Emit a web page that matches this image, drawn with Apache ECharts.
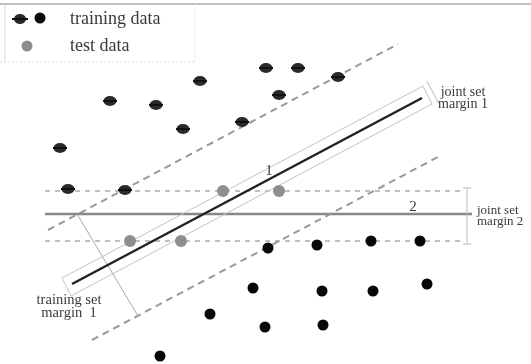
<!DOCTYPE html>
<html>
<head>
<meta charset="utf-8">
<script src="https://cdn.jsdelivr.net/npm/echarts@6/dist/echarts.min.js"></script>
<style>html,body{margin:0;padding:0;background:#fff}#c{width:531px;height:364px}</style>
</head>
<body>
<div id="c"></div>
<script>
// data (units in the figure's own plane, x to the right, y downward)
const trainingMinus = [[110,101],[156,105],[200,81],[266,68],[298,68],[338,77],[279,95],[242,122],[183,129],[60,148],[68,189],[125,190]];
const trainingPlus = [[268,248],[317,245],[371,241],[420,241],[253,288],[322,291],[373,291],[427,284],[210,314],[265,327],[323,325],[160,356]];
const testData = [[223,191],[279,191],[130,241],[181,241]];

const mainHyperplane = [[72,284],[422,98]];
const upperMargin1 = [[48,230],[398,44]];
const lowerMargin1 = [[92,340],[438,157]];
const hyperplane2 = [[45,214],[472,214]];
const upperMargin2 = [[45,191],[465,191]];
const lowerMargin2 = [[45,241],[465,241]];
const jointBandUpper = [[62,278],[423,86]];
const jointBandLower = [[71,296],[432,104]];
const jointBandEnds = [[[62,278],[71,296]],[[423,86],[432,104]]];
const jointBracket1 = [[427,81],[439,104]];
const trainMarginLine = [[77,214],[138,316]];
const bracket2 = [[467,188],[467,244]];
const bracket2Ticks = [[[463,188],[471,188]],[[463,244],[471,244]]];

const seg = (d, color, width, type) => ({
  type: 'line', data: d, symbol: 'none', silent: true, animation: false,
  lineStyle: { color: color, width: width, type: type || 'solid' }, z: 2
});

const series = [
  seg(upperMargin2, '#aaa', 1.5, [5,5]),
  seg(lowerMargin2, '#aaa', 1.5, [5,5]),
  seg(hyperplane2, '#888', 2.5),
  seg(upperMargin1, '#999', 2, [7,5]),
  seg(lowerMargin1, '#999', 2, [7,5]),
  seg(jointBandUpper, '#c4c4c4', 1),
  seg(jointBandLower, '#c4c4c4', 1),
  seg(jointBandEnds[0], '#c4c4c4', 1),
  seg(jointBandEnds[1], '#c4c4c4', 1),
  seg(jointBracket1, '#bbb', 1),
  seg(trainMarginLine, '#aaa', 1),
  seg(bracket2, '#bbb', 1),
  seg(bracket2Ticks[0], '#bbb', 1),
  seg(bracket2Ticks[1], '#bbb', 1),
  seg(mainHyperplane, '#222', 2.5),
  { type: 'scatter', data: trainingMinus, symbol: 'circle', symbolSize: [13,10], itemStyle: { color: '#2a2a2a', opacity: 1 }, z: 5, animation: false },
  { type: 'scatter', data: trainingMinus, symbol: 'rect', symbolSize: [14,2], itemStyle: { color: '#111', opacity: 1 }, z: 6, animation: false },
  { type: 'scatter', data: trainingPlus, symbol: 'circle', symbolSize: 11, itemStyle: { color: '#080808', opacity: 1 }, z: 5, animation: false },
  { type: 'scatter', data: testData, symbol: 'circle', symbolSize: 12, itemStyle: { color: '#8e8e8e', opacity: 1 }, z: 5, animation: false }
];

const font = '"Liberation Serif", "DejaVu Serif", serif';
const txt = (x, y, t, size, align) => ({
  type: 'text', x: x, y: y, z: 10,
  style: { text: t, fill: '#3a3a3a', font: size + 'px ' + font, align: align || 'left', verticalAlign: 'middle' }
});

const chart = echarts.init(document.getElementById('c'), null, { renderer: 'canvas' });
chart.setOption({
  backgroundColor: '#fff',
  animation: false,
  grid: { left: 0, right: 0, top: 0, bottom: 0 },
  xAxis: { type: 'value', min: 0, max: 531, show: false },
  yAxis: { type: 'value', min: 0, max: 364, inverse: true, show: false },
  series: series,
  graphic: [
    { type: 'line', shape: { x1: 0, y1: 4, x2: 531, y2: 4 }, style: { stroke: '#aaa', lineWidth: 1.5 }, z: 1 },
    { type: 'line', shape: { x1: 5, y1: 4, x2: 5, y2: 62 }, style: { stroke: '#ddd', lineWidth: 1 }, z: 1 },
    { type: 'line', shape: { x1: 0, y1: 62, x2: 195, y2: 62 }, style: { stroke: '#ddd', lineWidth: 1, lineDash: [2,2] }, z: 1 },
    { type: 'line', shape: { x1: 195, y1: 4, x2: 195, y2: 62 }, style: { stroke: '#eee', lineWidth: 1 }, z: 1 },
    { type: 'ellipse', shape: { cx: 20, cy: 19, rx: 6, ry: 5 }, style: { fill: '#2a2a2a' }, z: 10 },
    { type: 'rect', shape: { x: 12, y: 18, width: 16, height: 2 }, style: { fill: '#111' }, z: 11 },
    { type: 'circle', shape: { cx: 40, cy: 18, r: 5.5 }, style: { fill: '#080808' }, z: 10 },
    { type: 'circle', shape: { cx: 27, cy: 46, r: 5.5 }, style: { fill: '#8e8e8e' }, z: 10 },
    txt(70, 19, 'training data', 18),
    txt(70, 46, 'test data', 18),
    txt(269, 171, '1', 15, 'center'),
    txt(413, 207, '2', 15, 'center'),
    txt(463, 92, 'joint set', 14, 'center'),
    txt(463, 104, 'margin 1', 14, 'center'),
    txt(477, 211, 'joint set', 13),
    txt(477, 222, 'margin 2', 13),
    txt(69, 300, 'training set', 14.5, 'center'),
    txt(69, 313, 'margin  1', 14.5, 'center')
  ]
});
</script>
</body>
</html>
